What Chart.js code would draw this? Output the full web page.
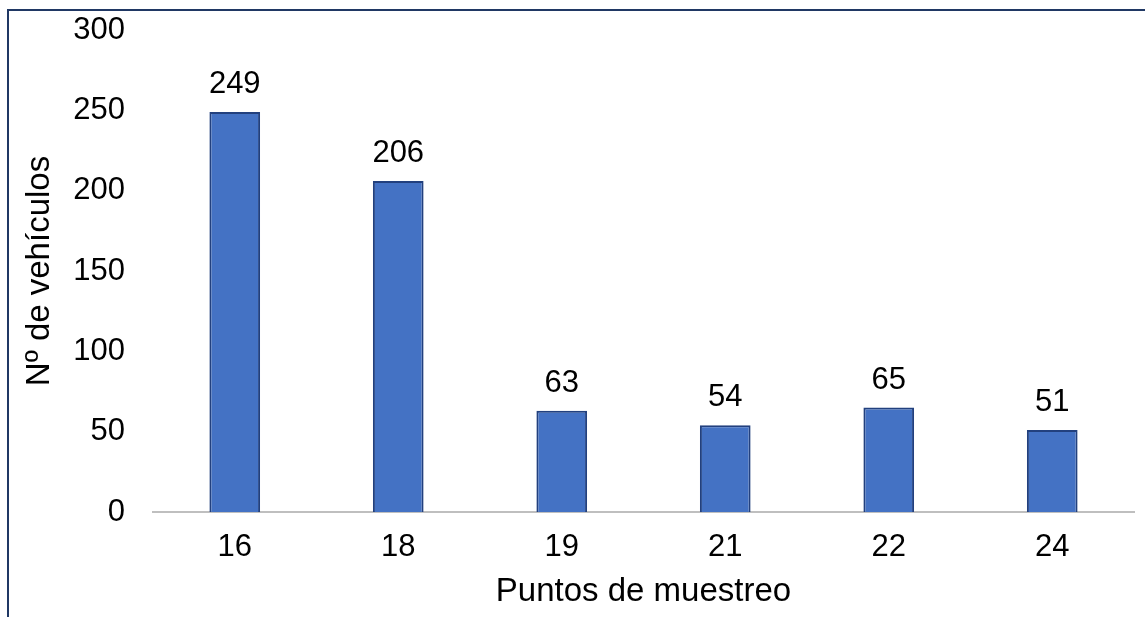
<!DOCTYPE html>
<html>
<head>
<meta charset="utf-8">
<script src="https://cdn.jsdelivr.net/npm/chart.js@4/dist/chart.umd.min.js"></script>
<style>
  html,body{margin:0;padding:0;background:#fff;}
  #wrap{position:relative;width:1145px;height:617px;}
  #frame{position:absolute;left:7px;top:9px;width:1160px;height:640px;border-left:2px solid #203864;border-top:2px solid #203864;pointer-events:none;}
</style>
</head>
<body>
<div id="wrap">
  <canvas id="chartPuntos" width="1145" height="617"></canvas>
  <div id="frame"></div>
</div>
<script>
const puntos   = ['16','18','19','21','22','24'];
const vehiculos = [249, 206, 63, 54, 65, 51];
const yMin = 0, yMax = 300, yStep = 50;

const FONT = "'Liberation Sans', Arial, sans-serif";

// etiquetas de valor encima de cada barra
const etiquetas = {
  id:'etiquetas',
  afterDatasetsDraw(chart){
    const ctx = chart.ctx;
    const meta = chart.getDatasetMeta(0);
    ctx.save();
    ctx.font = '31px ' + FONT;
    ctx.fillStyle = '#000';
    ctx.textAlign = 'center';
    ctx.textBaseline = 'alphabetic';
    meta.data.forEach((bar,i)=>{
      ctx.fillText(String(vehiculos[i]), bar.x, bar.y - 19);
    });
    ctx.restore();
  }
};

new Chart(document.getElementById('chartPuntos'),{
  type:'bar',
  data:{
    labels:puntos,
    datasets:[{
      label:'Nº de vehículos',
      data:vehiculos,
      backgroundColor:'#4472C4',
      borderColor:'#22407E',
      borderWidth:2,
      barPercentage:0.31,
      categoryPercentage:1
    }]
  },
  options:{
    responsive:false,
    animation:false,
    layout:{padding:{left:0,top:30,right:11,bottom:0}},
    plugins:{legend:{display:false},tooltip:{enabled:false}},
    scales:{
      x:{
        grid:{display:false,drawTicks:false},
        border:{display:true,color:'#BFBFBF',width:2},
        ticks:{color:'#000',font:{family:FONT,size:31},padding:17},
        title:{display:true,text:'Puntos de muestreo',color:'#000',font:{family:FONT,size:33},padding:{top:0,bottom:5}},
        afterFit(s){ s.height = 105; }
      },
      y:{
        min:yMin,max:yMax,
        grid:{display:false,drawTicks:false},
        border:{display:false},
        ticks:{stepSize:yStep,color:'#000',font:{family:FONT,size:31},padding:28},
        title:{display:true,text:'Nº de vehículos',color:'#000',font:{family:FONT,size:33},padding:{top:20,bottom:0}},
        afterFit(s){ s.width = 153; s.paddingTop = 0; s.paddingBottom = 0; }
      }
    }
  },
  plugins:[etiquetas]
});
</script>
</body>
</html>
